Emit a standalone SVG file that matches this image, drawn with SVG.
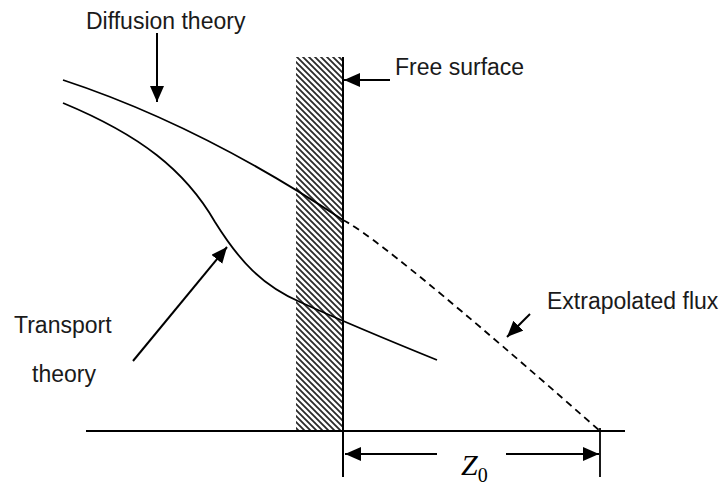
<svg xmlns="http://www.w3.org/2000/svg" width="726" height="485" viewBox="0 0 726 485">
  <style>
    .lbl { font-family: "Liberation Sans", Arial, sans-serif; font-size: 23px; fill: #1a1a1a; }
    .ln { fill: none; stroke: #000; stroke-width: 1.8; }
    .arr { fill: none; stroke: #000; stroke-width: 2; marker-end: url(#ah); }
  </style>
  <defs>
    <marker id="ah" markerUnits="userSpaceOnUse" markerWidth="17" markerHeight="15" refX="16" refY="7" orient="auto">
      <path d="M0,0 L16,7 L0,14 z" fill="#000"/>
    </marker>
    <pattern id="hatch" patternUnits="userSpaceOnUse" width="6" height="6">
      <rect width="6" height="6" fill="#fff"/>
      <path d="M-1,-1 L7,7 M-1,5 L1,7 M5,-1 L7,1" stroke="#2a2a2a" stroke-width="1.8"/>
    </pattern>
  </defs>
  <rect width="726" height="485" fill="#fff"/>

  <g id="wall">
    <rect x="296" y="57" width="47" height="374" fill="url(#hatch)"/>
    <line x1="343" y1="57" x2="343" y2="477" stroke="#000" stroke-width="2"/>
  </g>

  <g id="ground">
    <line x1="86" y1="431" x2="625" y2="431" stroke="#000" stroke-width="1.8"/>
    <line x1="600" y1="428" x2="600" y2="477" stroke="#000" stroke-width="1.8"/>
  </g>

  <g id="curves">
    <path id="diffusion-curve" class="ln" d="M63,80 Q200,125 343,220"/>
    <path id="extrapolated-curve" class="ln" stroke-dasharray="7,5" d="M343,220 Q383,240 600,431"/>
    <path id="transport-curve" class="ln" d="M63,103 C140,135 185,170 215,222 C240,262 262,285 300,302 C340,320 400,345 437,360"/>
  </g>

  <g id="connectors">
    <line class="arr" x1="157" y1="33" x2="157" y2="102"/>
    <line class="arr" x1="390" y1="80" x2="344" y2="80"/>
    <line class="arr" x1="133" y1="361" x2="227" y2="247"/>
    <line class="arr" x1="530" y1="314" x2="507" y2="337"/>
    <line class="arr" x1="437" y1="454" x2="345" y2="454"/>
    <line class="arr" x1="506" y1="454" x2="599" y2="454"/>
  </g>

  <g id="labels">
    <text id="lbl-diffusion" class="lbl" x="86" y="29">Diffusion theory</text>
    <text id="lbl-free" class="lbl" x="395" y="75">Free surface</text>
    <text id="lbl-extrap" class="lbl" x="547" y="309">Extrapolated flux</text>
    <text id="lbl-transport" class="lbl" x="14" y="333">Transport</text>
    <text id="lbl-theory" class="lbl" x="32" y="382">theory</text>
    <text id="lbl-z0" x="461" y="475" font-family="'Liberation Serif', 'Times New Roman', serif" font-size="30" font-style="italic" fill="#000">Z<tspan font-style="normal" font-size="20" dy="7">0</tspan></text>
  </g>
</svg>
